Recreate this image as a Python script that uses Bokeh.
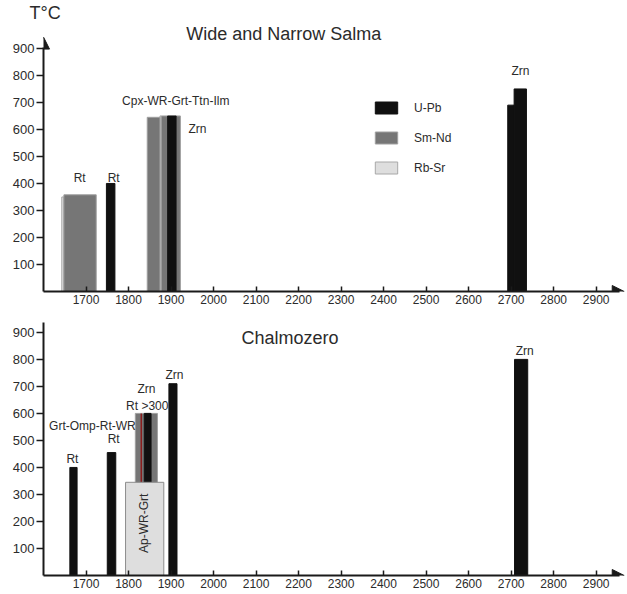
import math
from bokeh.plotting import figure
from bokeh.layouts import column
from bokeh.models import (Range1d, FixedTicker, Arrow, NormalHead,
                          Legend, LegendItem)
from bokeh.core.properties import value
from bokeh.embed import file_html
from bokeh.resources import INLINE

FONT = "Liberation Sans"
TXT = "#2b2b2b"
C_UPB = "#101010"
C_SMND = "#767676"
C_RBSR = "#dedede"

# ---------------- data ----------------
x_ticks = [1700, 1800, 1900, 2000, 2100, 2200, 2300, 2400, 2500, 2600, 2700, 2800, 2900]
y_ticks = [100, 200, 300, 400, 500, 600, 700, 800, 900]
methods = ["U-Pb", "Sm-Nd", "Rb-Sr"]

# Wide and Narrow Salma (age in Ma, temperature in deg C)
salma_upb_from = [1748, 1892, 2692, 2707]
salma_upb_to = [1768, 1912, 2707, 2736]
salma_upb_temp = [400, 650, 690, 750]
salma_smnd_from = [1648, 1844, 1877, 1912]
salma_smnd_to = [1724, 1874, 1892, 1922]
salma_smnd_temp = [358, 645, 650, 650]
salma_rbsr_from = [1643, 1874]
salma_rbsr_to = [1648, 1877]
salma_rbsr_temp = [350, 650]
salma_labels = ["Rt", "Rt", "Cpx-WR-Grt-Ttn-Ilm", "Zrn", "Zrn"]
salma_label_age = [1685, 1765, 1911, 1962, 2722]
salma_label_temp = [420, 422, 707, 600, 815]

# Chalmozero
chal_upb_from = [1662, 1750, 1837, 1895, 2708]
chal_upb_to = [1679, 1770, 1853, 1914, 2739]
chal_upb_temp = [400, 455, 600, 710, 800]
chal_smnd_from = [1816]
chal_smnd_to = [1868]
chal_smnd_temp = [600]
chal_rbsr_from = [1793]
chal_rbsr_to = [1883]
chal_rbsr_temp = [345]
chal_red_age = [1830]
chal_red_from = [345]
chal_red_to = [600]
chal_labels = ["Rt", "Grt-Omp-Rt-WR", "Rt", "Rt >300", "Zrn", "Zrn", "Zrn"]
chal_label_age = [1668, 1715, 1765, 1844, 1842, 1908, 2732]
chal_label_temp = [433, 552, 504, 627, 689, 742, 830]
chal_rot_label = ["Ap-WR-Grt"]
chal_rot_age = [1836]
chal_rot_temp = [193]

X_END = 2969


def make_fig(frame_h, y_top, border_bottom, y_bound):
    p = figure(frame_width=582, frame_height=frame_h,
               x_range=Range1d(1600, X_END), y_range=Range1d(0, y_top),
               output_backend="svg", toolbar_location=None,
               min_border_left=43, min_border_right=0,
               min_border_top=0, min_border_bottom=border_bottom)
    p.outline_line_color = None
    p.grid.visible = False
    p.background_fill_color = "white"

    xa = p.xaxis[0]
    xa.ticker = FixedTicker(ticks=x_ticks)
    xa.bounds = (1600, X_END - 14)
    xa.axis_line_width = 2
    xa.axis_line_color = "#1a1a1a"
    xa.major_tick_in = 5
    xa.major_tick_out = 0
    xa.minor_tick_in = 0
    xa.minor_tick_out = 0
    xa.major_tick_line_width = 1.5
    xa.major_tick_line_color = "#1a1a1a"
    xa.major_label_text_font = FONT
    xa.major_label_text_font_size = "12px"
    xa.major_label_text_color = TXT
    xa.major_label_standoff = 3

    ya = p.yaxis[0]
    ya.ticker = FixedTicker(ticks=y_ticks)
    ya.bounds = (0, y_bound)
    ya.axis_line_width = 2
    ya.axis_line_color = "#1a1a1a"
    ya.major_tick_in = 0
    ya.major_tick_out = 7
    ya.minor_tick_in = 0
    ya.minor_tick_out = 0
    ya.major_tick_line_width = 1.5
    ya.major_tick_line_color = "#1a1a1a"
    ya.major_label_text_font = FONT
    ya.major_label_text_font_size = "13px"
    ya.major_label_text_color = TXT
    ya.major_label_standoff = 2

    # x-axis arrow head
    p.add_layout(Arrow(x_start=X_END - 40, y_start=0, x_end=X_END - 3, y_end=0,
                       line_color=None,
                       end=NormalHead(size=12, fill_color="#1a1a1a",
                                      line_color="#1a1a1a")))
    return p


def bars(p, lft, rgt, top, fill, line):
    return p.quad(left=lft, right=rgt, bottom=0, top=top,
                  fill_color=fill, line_color=line, line_width=1)


def labels(p, xs, ys, txt, size="12px", angle=0.0):
    p.text(x=xs, y=ys, text=txt, text_font=value(FONT),
           text_font_size=value(size), text_color=TXT, angle=angle,
           text_align="center", text_baseline="middle")


# ---------------- top: Wide and Narrow Salma ----------------
p1 = make_fig(269, 996, 19, 905)
p1.title.text = "T°C"
p1.title.text_font = FONT
p1.title.text_font_size = "18px"
p1.title.text_font_style = "normal"
p1.title.text_color = TXT
p1.title.align = "left"
p1.title.offset = -14
p1.title.standoff = 0

r_rb = bars(p1, salma_rbsr_from, salma_rbsr_to, salma_rbsr_temp, C_RBSR, "#a8a8a8")
r_sm = bars(p1, salma_smnd_from, salma_smnd_to, salma_smnd_temp, C_SMND, "#a0a0a0")
r_u = bars(p1, salma_upb_from, salma_upb_to, salma_upb_temp, C_UPB, C_UPB)
labels(p1, salma_label_age, salma_label_temp, salma_labels)
labels(p1, [2165], [955], ["Wide and Narrow Salma"], size="18px")
p1.add_layout(Arrow(x_start=1600, y_start=900, x_end=1600, y_end=942,
                    line_color=None,
                    end=NormalHead(size=12, fill_color="#1a1a1a",
                                   line_color="#1a1a1a")))

legend = Legend(items=[LegendItem(label=methods[0], renderers=[r_u]),
                       LegendItem(label=methods[1], renderers=[r_sm]),
                       LegendItem(label=methods[2], renderers=[r_rb])],
                location=(329, 116), orientation="vertical",
                glyph_width=28, glyph_height=15, label_height=15,
                spacing=15, padding=0, margin=0, label_standoff=14,
                border_line_color=None, background_fill_alpha=0,
                label_text_font=FONT, label_text_font_size="12px",
                label_text_color=TXT)
p1.add_layout(legend)

# ---------------- bottom: Chalmozero ----------------
p2 = make_fig(265, 981, 17, 937)
bars(p2, chal_smnd_from, chal_smnd_to, chal_smnd_temp, C_SMND, "#a0a0a0")
bars(p2, chal_upb_from, chal_upb_to, chal_upb_temp, C_UPB, C_UPB)
p2.segment(x0=chal_red_age, y0=chal_red_from, x1=chal_red_age, y1=chal_red_to,
           line_color="#8a1c1c", line_width=1.5)
bars(p2, chal_rbsr_from, chal_rbsr_to, chal_rbsr_temp, C_RBSR, "#8c8c8c")
labels(p2, chal_label_age, chal_label_temp, chal_labels)
labels(p2, chal_rot_age, chal_rot_temp, chal_rot_label, angle=math.pi / 2)
labels(p2, [2180], [878], ["Chalmozero"], size="18px")

layout = column(p1, p2, spacing=0)
open("out.html", "w").write(file_html(layout, INLINE))
